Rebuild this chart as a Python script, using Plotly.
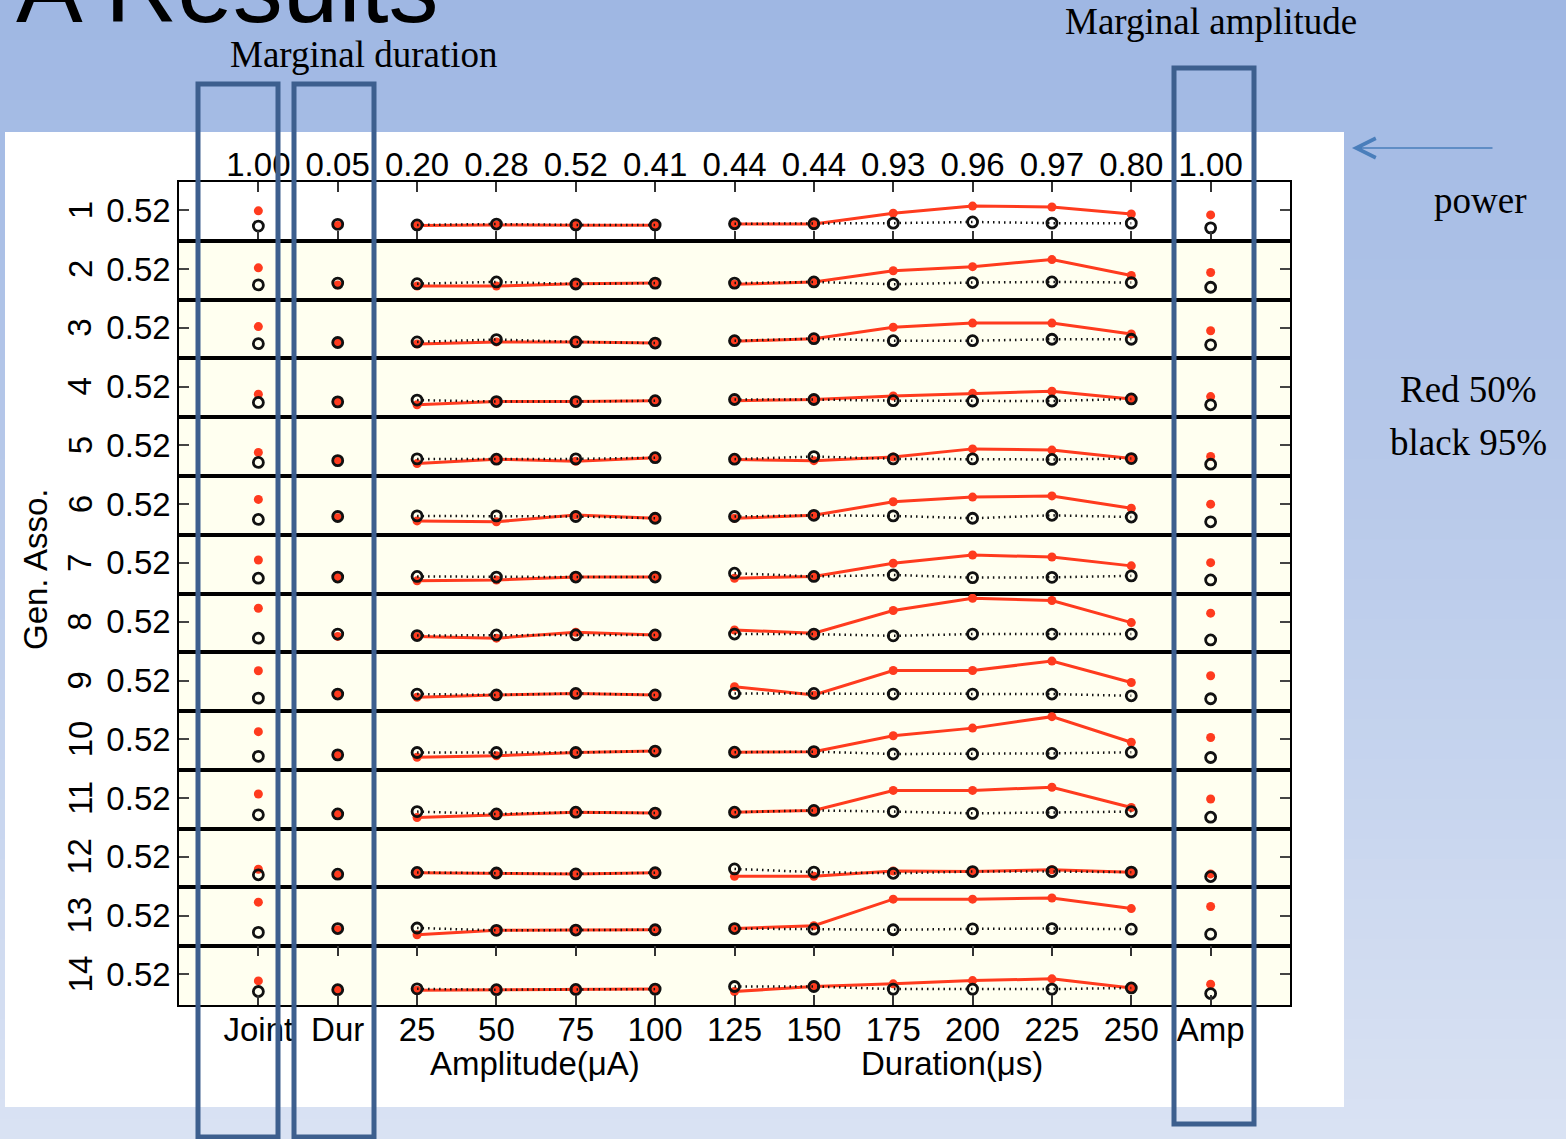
import plotly.graph_objects as go

W, H = 1566, 1139

# ---------------- data ----------------
categories = ["Joint", "Dur", "25", "50", "75", "100", "125", "150", "175", "200", "225", "250", "Amp"]
power = ["1.00", "0.05", "0.20", "0.28", "0.52", "0.41", "0.44", "0.44", "0.93", "0.96", "0.97", "0.80", "1.00"]
row_labels = [str(i) for i in range(1, 15)]
row_tick_value = 0.52
row_tick_text = "0.52"
# column groups (positions on the x scale); points inside a group are joined by lines
groups = [[1], [2], [3, 4, 5, 6], [7, 8, 9, 10, 11, 12], [13]]

red50 = [
    [0.51, 0.26, 0.26, 0.27, 0.265, 0.265, 0.285, 0.285, 0.47, 0.59, 0.575, 0.455, 0.44],
    [0.54, 0.25, 0.23, 0.23, 0.27, 0.28, 0.26, 0.30, 0.49, 0.56, 0.68, 0.41, 0.46],
    [0.54, 0.26, 0.245, 0.28, 0.28, 0.26, 0.29, 0.335, 0.53, 0.60, 0.60, 0.415, 0.47],
    [0.39, 0.26, 0.21, 0.265, 0.265, 0.28, 0.28, 0.30, 0.36, 0.405, 0.44, 0.31, 0.35],
    [0.40, 0.25, 0.21, 0.285, 0.25, 0.31, 0.28, 0.26, 0.32, 0.46, 0.44, 0.295, 0.33],
    [0.60, 0.29, 0.235, 0.22, 0.335, 0.28, 0.28, 0.33, 0.56, 0.64, 0.66, 0.45, 0.52],
    [0.57, 0.27, 0.215, 0.23, 0.28, 0.28, 0.26, 0.29, 0.515, 0.655, 0.62, 0.47, 0.525],
    [0.75, 0.27, 0.27, 0.24, 0.34, 0.295, 0.38, 0.325, 0.71, 0.92, 0.88, 0.505, 0.665],
    [0.685, 0.28, 0.235, 0.275, 0.30, 0.275, 0.415, 0.275, 0.69, 0.69, 0.85, 0.485, 0.60],
    [0.65, 0.25, 0.215, 0.24, 0.295, 0.32, 0.30, 0.31, 0.58, 0.71, 0.905, 0.47, 0.55],
    [0.59, 0.24, 0.19, 0.24, 0.28, 0.265, 0.28, 0.31, 0.65, 0.65, 0.705, 0.36, 0.505],
    [0.31, 0.21, 0.25, 0.245, 0.23, 0.25, 0.19, 0.19, 0.28, 0.27, 0.30, 0.26, 0.23],
    [0.75, 0.28, 0.195, 0.27, 0.275, 0.28, 0.30, 0.35, 0.80, 0.80, 0.82, 0.64, 0.675],
    [0.41, 0.25, 0.25, 0.26, 0.26, 0.27, 0.23, 0.315, 0.36, 0.415, 0.445, 0.29, 0.355],
]
black95 = [
    [0.25, 0.28, 0.27, 0.285, 0.27, 0.27, 0.29, 0.29, 0.30, 0.32, 0.30, 0.30, 0.22],
    [0.25, 0.28, 0.27, 0.30, 0.265, 0.28, 0.28, 0.30, 0.26, 0.29, 0.30, 0.29, 0.21],
    [0.25, 0.27, 0.28, 0.32, 0.28, 0.26, 0.30, 0.335, 0.30, 0.30, 0.325, 0.325, 0.23],
    [0.25, 0.26, 0.29, 0.265, 0.265, 0.28, 0.30, 0.30, 0.28, 0.275, 0.275, 0.31, 0.21],
    [0.23, 0.26, 0.29, 0.285, 0.29, 0.31, 0.285, 0.33, 0.29, 0.29, 0.28, 0.295, 0.20],
    [0.26, 0.31, 0.32, 0.32, 0.31, 0.28, 0.31, 0.33, 0.32, 0.28, 0.33, 0.30, 0.22],
    [0.26, 0.28, 0.29, 0.28, 0.28, 0.28, 0.345, 0.29, 0.315, 0.27, 0.275, 0.30, 0.23],
    [0.24, 0.31, 0.285, 0.295, 0.295, 0.295, 0.31, 0.31, 0.28, 0.31, 0.31, 0.31, 0.21],
    [0.22, 0.29, 0.29, 0.275, 0.30, 0.275, 0.30, 0.30, 0.29, 0.29, 0.29, 0.26, 0.21],
    [0.23, 0.255, 0.295, 0.295, 0.295, 0.32, 0.30, 0.31, 0.27, 0.27, 0.28, 0.30, 0.21],
    [0.235, 0.25, 0.29, 0.25, 0.28, 0.265, 0.28, 0.31, 0.29, 0.26, 0.275, 0.29, 0.195],
    [0.215, 0.225, 0.255, 0.245, 0.23, 0.25, 0.315, 0.26, 0.24, 0.27, 0.27, 0.26, 0.185],
    [0.235, 0.30, 0.31, 0.27, 0.275, 0.28, 0.30, 0.29, 0.28, 0.295, 0.30, 0.29, 0.205],
    [0.23, 0.26, 0.275, 0.26, 0.265, 0.27, 0.315, 0.315, 0.27, 0.27, 0.27, 0.29, 0.195],
]

# ---------------- style ----------------
RED = "#ff3b1e"
BLK = "#111111"
FONT = "Liberation Sans, Arial, sans-serif"
SERIF = "Liberation Serif, Times New Roman, serif"
BOXBLUE = "#3d5f8e"

PLOT_L, PLOT_R = 179, 1290
PLOT_T, PLOT_B = 182, 1005
NROW = len(red50)
RH = (PLOT_B - PLOT_T) / NROW


def px(x):
    return x / W


def py(y):
    return 1 - y / H


def with_gaps(vals):
    xs, ys = [], []
    for g in groups:
        for p in g:
            xs.append(p)
            ys.append(vals[p - 1])
        xs.append(None)
        ys.append(None)
    return xs, ys


fig = go.Figure()
layout = dict(
    width=W, height=H, autosize=False,
    margin=dict(l=0, r=0, t=0, b=0),
    paper_bgcolor="#bccbeb", plot_bgcolor="rgba(0,0,0,0)",
    showlegend=False,
    font=dict(family=FONT, size=33, color="black"),
)

xdom = [px(PLOT_L), px(PLOT_R)]
tickpos = list(range(1, len(categories) + 1))

for i in range(NROW):
    sfx = "" if i == 0 else str(i + 1)
    xa, ya = "x" + sfx, "y" + sfx
    top = PLOT_T + i * RH
    bot = top + RH
    xr, yr = with_gaps(red50[i])
    xb, yb = with_gaps(black95[i])
    fig.add_trace(go.Scatter(x=xr, y=yr, xaxis=xa, yaxis=ya, mode="lines+markers",
                             line=dict(color=RED, width=3),
                             marker=dict(color=RED, size=9, symbol="circle"),
                             hoverinfo="skip"))
    fig.add_trace(go.Scatter(x=xb, y=yb, xaxis=xa, yaxis=ya, mode="lines+markers",
                             line=dict(color=BLK, width=2.5, dash="1.5px,4px"),
                             marker=dict(color=BLK, size=10, symbol="circle-open",
                                         line=dict(color=BLK, width=2.8)),
                             hoverinfo="skip"))
    xax = dict(domain=xdom, range=[0, 14], anchor=ya, showgrid=False, zeroline=False,
               showline=True, linecolor="black", linewidth=1.6, mirror=True,
               tickvals=tickpos, ticks="", showticklabels=False, fixedrange=True)
    if i > 0:
        xax["matches"] = "x"
    if i == 0:
        xax.update(side="top", ticks="inside", ticklen=10, tickwidth=1.5, tickcolor="#333",
                   mirror="ticks", showticklabels=True, ticktext=power,
                   ticklabelstandoff=-9,
                   tickfont=dict(size=33, family=FONT))
    if i == NROW - 1:
        xax.update(side="bottom", ticks="inside", ticklen=10, tickwidth=1.5, tickcolor="#333",
                   mirror="ticks", showticklabels=True, ticktext=categories,
                   ticklabelstandoff=-5,
                   tickfont=dict(size=33, family=FONT))
    yax = dict(domain=[py(bot), py(top)], range=[0, 1], anchor=xa, showgrid=False,
               zeroline=False, showline=True, linecolor="black", linewidth=1.6,
               mirror="ticks", ticks="inside", ticklen=10, tickwidth=1.5, tickcolor="#444",
               tickvals=[row_tick_value], ticktext=[row_tick_text],
               tickfont=dict(size=33, family=FONT), fixedrange=True)
    layout["xaxis" + sfx] = xax
    layout["yaxis" + sfx] = yax

# ---------------- background shapes ----------------
shapes = []
nb = 57
c0 = (159, 183, 227)
c1 = (217, 226, 243)
for k in range(nb):
    t = k / (nb - 1)
    col = "rgb(%d,%d,%d)" % tuple(round(a + (b - a) * t) for a, b in zip(c0, c1))
    y0 = k * H / nb
    y1 = (k + 1) * H / nb + 1
    shapes.append(dict(type="rect", xref="paper", yref="paper", x0=0, x1=1,
                       y0=py(y1), y1=py(y0), fillcolor=col, line=dict(width=0), layer="below"))
shapes.append(dict(type="rect", xref="paper", yref="paper", x0=px(5), x1=px(1344),
                   y0=py(1107), y1=py(132), fillcolor="white", line=dict(width=0), layer="below"))
for i in range(NROW):
    top = PLOT_T + i * RH
    shapes.append(dict(type="rect", xref="paper", yref="paper", x0=px(PLOT_L), x1=px(PLOT_R),
                       y0=py(top + RH), y1=py(top),
                       fillcolor="white" if i == 0 else "#fffff0",
                       line=dict(width=0), layer="below"))
# blue highlight boxes
for (x0, x1, y0, y1) in [(198, 278, 84, 1137), (294, 374, 84, 1137), (1174, 1254, 68, 1124)]:
    shapes.append(dict(type="rect", xref="paper", yref="paper", x0=px(x0), x1=px(x1),
                       y0=py(y1), y1=py(y0), line=dict(color=BOXBLUE, width=5),
                       fillcolor="rgba(0,0,0,0)", layer="above"))
layout["shapes"] = shapes

# ---------------- annotations ----------------
ann = []
for i, lab in enumerate(row_labels):
    yref = "y domain" if i == 0 else "y%d domain" % (i + 1)
    ann.append(dict(text=lab, xref="paper", yref=yref, x=px(80), y=row_tick_value,
                    textangle=-90, showarrow=False, xanchor="center", yanchor="middle",
                    font=dict(size=33, family=FONT)))
ann.append(dict(text="Gen. Asso.", xref="paper", yref="paper", x=px(35), y=py(570),
                textangle=-90, showarrow=False, xanchor="center", yanchor="middle",
                font=dict(size=33, family=FONT)))
last_x = "x%d" % NROW
ann.append(dict(text="Amplitude(μA)", xref=last_x, yref="paper", x=4.48, y=py(1063),
                xanchor="center", yanchor="middle",
                showarrow=False, font=dict(size=33, family=FONT)))
ann.append(dict(text="Duration(μs)", xref=last_x, yref="paper", x=9.74, y=py(1063),
                xanchor="center", yanchor="middle",
                showarrow=False, font=dict(size=33, family=FONT)))
# slide texts
ann.append(dict(text="A Results", xref="paper", yref="paper", x=px(440), y=py(45),
                xanchor="right", yanchor="bottom", showarrow=False,
                font=dict(size=100, family=FONT, color="black")))
for txt, cx, cy in [("Marginal duration", 364, 54), ("Marginal amplitude", 1211, 22),
                    ("power", 1480, 200), ("Red 50%", 1468, 390), ("black 95%", 1468, 443)]:
    ann.append(dict(text=txt, xref="paper", yref="paper", x=px(cx), y=py(cy),
                    xanchor="center", yanchor="middle", showarrow=False,
                    font=dict(size=37, family=SERIF, color="black")))
ann.append(dict(text="", xref="paper", yref="paper", x=px(1352), y=py(148),
                ax=142, ay=0, showarrow=True, arrowhead=5, arrowsize=2.4,
                arrowwidth=1.6, arrowcolor="#4a7ebb"))
layout["annotations"] = ann

fig.update_layout(**layout)
fig.write_html("out.html")
